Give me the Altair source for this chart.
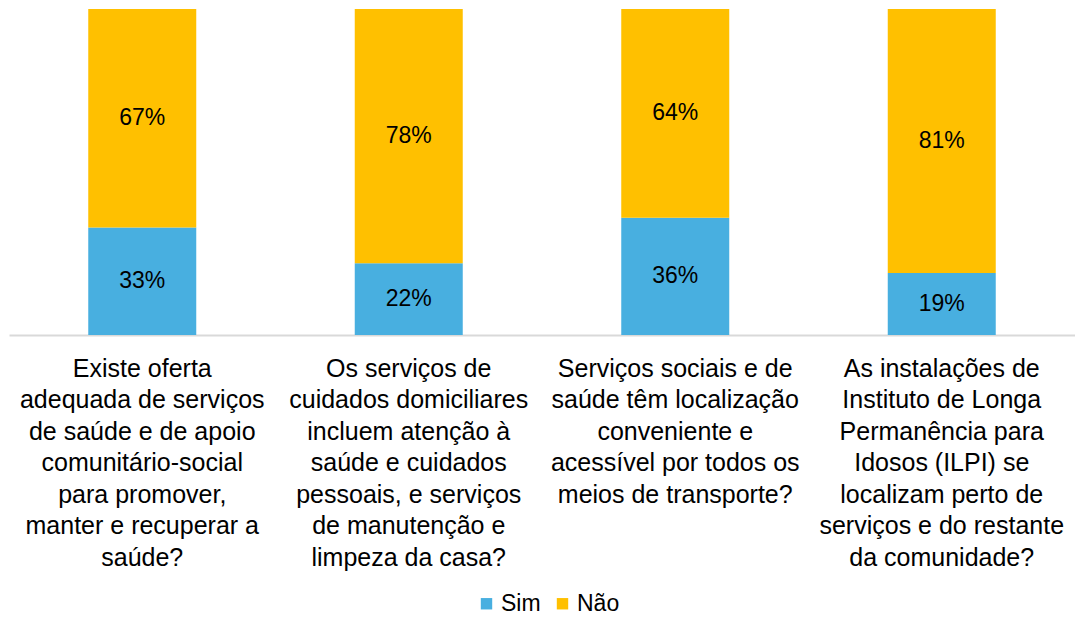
import altair as alt
import pandas as pd

categories = [
    "Existe oferta|adequada de serviços|de saúde e de apoio|comunitário-social|para promover,|manter e recuperar a|saúde?",
    "Os serviços de|cuidados domiciliares|incluem atenção à|saúde e cuidados|pessoais, e serviços|de manutenção e|limpeza da casa?",
    "Serviços sociais e de|saúde têm localização|conveniente e|acessível por todos os|meios de transporte?",
    "As instalações de|Instituto de Longa|Permanência para|Idosos (ILPI) se|localizam perto de|serviços e do restante|da comunidade?",
]
sim = [33, 22, 36, 19]
nao = [67, 78, 64, 81]
series = ["Sim", "Não"]
colors = ["#48AFE0", "#FFC000"]

rows = []
for c, s, n in zip(categories, sim, nao):
    rows.append({"cat": c, "resp": "Sim", "val": s, "ord": 0})
    rows.append({"cat": c, "resp": "Não", "val": n, "ord": 1})
df = pd.DataFrame(rows)

base = alt.Chart(df).transform_stack(
    stack="val", groupby=["cat"], as_=["y0", "y1"], sort=[alt.SortField("ord")]
).transform_calculate(mid="(datum.y0 + datum.y1) / 2", lbl="datum.val + '%'")

xenc = alt.X("cat:N", sort=categories, title=None,
             scale=alt.Scale(paddingInner=0, paddingOuter=0),
             axis=alt.Axis(labelExpr="split(datum.label, '|')", labelAngle=0,
                           labelFontSize=25, labelLineHeight=31.5, labelPadding=21,
                           labelBaseline="top", labelColor="#000000", labelFont="Liberation Sans",
                           domainColor="#D9D9D9", domainWidth=2, ticks=False, labelLimit=400))
yscale = alt.Scale(domain=[0, 100], nice=False)

bars = base.mark_bar(size=108).encode(
    x=xenc,
    y=alt.Y("y0:Q", scale=yscale, axis=None),
    y2="y1:Q",
    color=alt.Color("resp:N", scale=alt.Scale(domain=series, range=colors),
                    legend=alt.Legend(title=None, orient="none", direction="horizontal",
                                      legendX=466, legendY=583, symbolType="square",
                                      symbolSize=130, symbolStrokeWidth=0, labelFontSize=23,
                                      labelFont="Liberation Sans", labelColor="#000000",
                                      columnPadding=10, labelOffset=3)),
)

text = base.mark_text(fontSize=23, font="Liberation Sans", color="#000000").encode(
    x=alt.X("cat:N", sort=categories),
    y=alt.Y("mid:Q", scale=yscale),
    text="lbl:N",
)

chart = (bars + text).properties(
    width=1066, height=326,
    padding={"left": 1, "top": 1, "right": 0, "bottom": 0},
).configure_view(stroke=None)

chart.save("out.html", embed_options={"renderer": "svg", "actions": False})
